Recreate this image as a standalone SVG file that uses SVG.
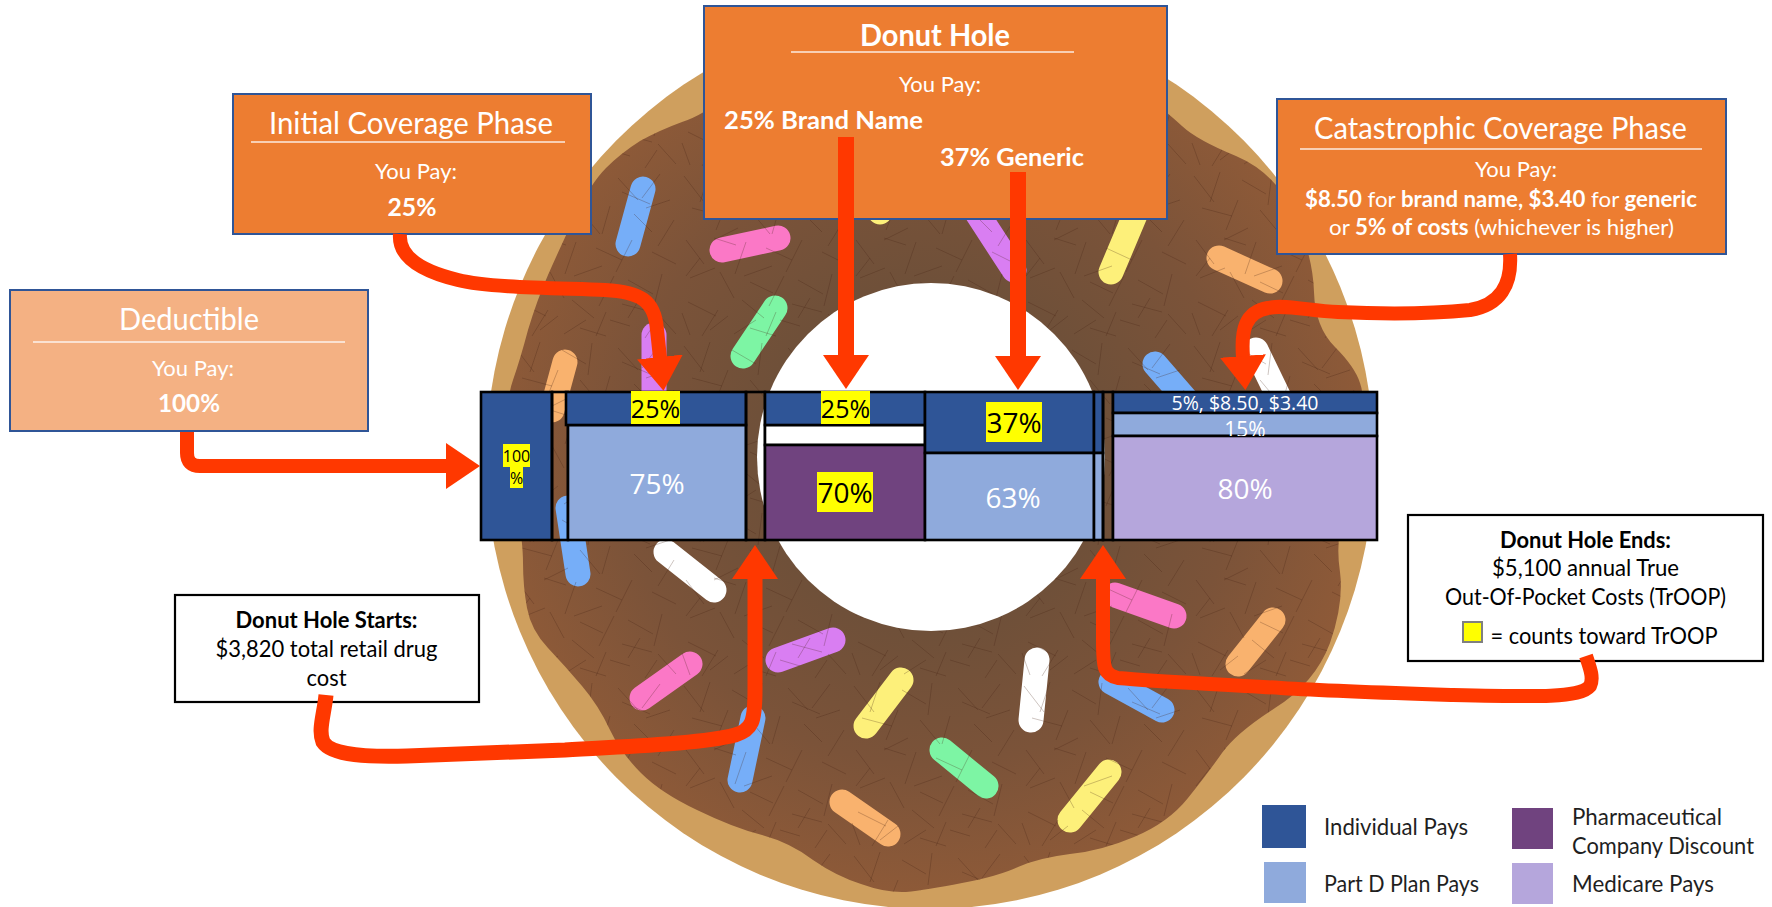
<svg xmlns="http://www.w3.org/2000/svg" width="1772" height="907" viewBox="0 0 1772 907">
<style>
text{font-family:"Lato","Open Sans","Liberation Sans",sans-serif;fill:#fff}
.b{font-weight:700}
.t{font-size:30px;text-anchor:middle}
.p{font-size:22px;text-anchor:middle}
.v{font-size:25px;font-weight:700;text-anchor:middle}
.k{fill:#000;font-size:23px;text-anchor:middle}
.l{fill:#1f1f1f;font-size:23px}
.n{font-family:"Open Sans","Liberation Sans",sans-serif;text-anchor:middle}
.n27{font-size:28px}.n24{font-size:25px}
.dk{fill:#000}
.call{fill:#ed7d31;stroke:#2f5597;stroke-width:2}
.note{fill:#fff;stroke:#000;stroke-width:2.2}
.rule{stroke:#fff;stroke-width:1.5;opacity:.85}
.seg{stroke:#000;stroke-width:2.6}
.ind{fill:#2f5597}.plan{fill:#8faadc}.pharm{fill:#70437f}.med{fill:#b5a6dc}
.hl{fill:#ff0}
.spr{fill:none;stroke-width:25;stroke-linecap:round}
.arr{fill:none;stroke:#ff3800;stroke-width:14;marker-end:url(#head)}
</style>
<defs>
<marker id="head" markerUnits="userSpaceOnUse" markerWidth="35" markerHeight="46" refX="1" refY="23" orient="auto" viewBox="0 0 35 46"><path d="M0 0L34 23L0 46z" fill="#ff3800"/></marker>
<radialGradient id="ice" gradientUnits="userSpaceOnUse" cx="930" cy="457" r="440"><stop offset=".4" stop-color="#6f5039"/><stop offset=".7" stop-color="#7b5339"/><stop offset="1" stop-color="#8e5a38"/></radialGradient>
<pattern id="tex" patternUnits="userSpaceOnUse" width="170" height="170">
<g stroke="#42200f" stroke-width=".7" opacity=".38" fill="none">
<path d="M4 6l20 26M30 2l-10 30M52 10l24 14M82 3l-4 32M108 8l20 22M150 4l-18 24M160 30l-24 8M12 38l30 8M48 30l-12 30M70 40l20 24M100 36l-8 28M124 44l18 18M164 50l-16 26M6 70l18 24M34 68l22 7M66 72l-11 32M86 78l26 12M122 70l-16 32M142 82l24 12M10 108l25-10M40 102l14 26M70 112l23 11M104 106l-15 30M118 110l25 14M152 104l-8 32M8 132l28 14M38 140l-16 26M62 130l22 18M96 142l-10 24M112 134l30 8M148 144l18 20M30 160l18-14M70 158l26 8M120 156l-20-6M10 165l-8-22M135 168l12-18M58 58l-24 12M112 22l28 12M20 88l-14 18M92 96l-28 10M130 128l-12 20M76 150l-22 14"/>
</g>
</pattern>
<clipPath id="bar15"><rect x="1113" y="414" width="264" height="22"/></clipPath>
</defs>

<g id="donut">
<ellipse cx="930" cy="459" rx="444" ry="450" fill="#cf9f5e"/>
<path id="icing" fill="url(#ice)" d="M682 122Q660 130 640 141Q621 153 606 168Q591 183 575 216Q559 250 548 275Q537 300 528 330Q520 360 513 380Q506 400 508 430Q510 460 516 500Q523 541 523 563Q523 586 527 608Q531 630 548 648Q565 666 582 686Q599 706 610 730Q621 753 641 773Q661 793 697 810Q734 828 762 835Q791 843 813 860Q836 876 861 884Q886 893 906 892Q926 890 962 883Q999 876 1018 867Q1038 858 1070 854Q1101 851 1134 837Q1168 823 1188 798Q1208 773 1222 753Q1236 733 1275 708Q1315 683 1330 643Q1344 603 1340 572Q1335 541 1345 505Q1355 470 1360 435Q1366 400 1360 383Q1355 367 1335 347Q1315 327 1314 292Q1313 257 1295 215Q1276 173 1236 156Q1197 140 1182 126Q1168 113 1134 86Q1100 60 1015 50Q930 40 845 55Q760 70 732 92Q704 115 682 122z"/>
<g class="sprinkles">
<g stroke="#76aef8"><path class="spr" d="M643 189L628 244"/><path class="spr" d="M568 508L578 574"/><path class="spr" d="M753 718L740 780"/><path class="spr" d="M1111 682L1162 710"/><path class="spr" d="M1155 364L1195 410"/></g>
<g stroke="#fb78c6"><path class="spr" d="M722 250L778 238"/><path class="spr" d="M642 698L690 664"/><path class="spr" d="M1115 595L1174 616"/></g>
<g stroke="#7df5a4"><path class="spr" d="M775 308L743 356"/><path class="spr" d="M942 750L986 786"/></g>
<g stroke="#d97ef2"><path class="spr" d="M654 335L654 400"/><path class="spr" d="M778 660L833 640"/><path class="spr" d="M975 210L1014 270"/></g>
<g stroke="#f9b26e"><path class="spr" d="M565 362L552 410"/><path class="spr" d="M842 802L888 834"/><path class="spr" d="M1273 620L1238 664"/><path class="spr" d="M1219 258L1270 281"/></g>
<g stroke="#fdf07a"><path class="spr" d="M901 680L866 726"/><path class="spr" d="M1109 772L1070 820"/><path class="spr" d="M1135 215L1111 272"/><path class="spr" d="M885 200L880 212"/></g>
<g stroke="#fff"><path class="spr" d="M666 552L714 590"/><path class="spr" d="M1037 660L1031 720"/><path class="spr" d="M1256 350L1285 410"/></g>
</g>
<path fill="url(#tex)" d="M682 122Q660 130 640 141Q621 153 606 168Q591 183 575 216Q559 250 548 275Q537 300 528 330Q520 360 513 380Q506 400 508 430Q510 460 516 500Q523 541 523 563Q523 586 527 608Q531 630 548 648Q565 666 582 686Q599 706 610 730Q621 753 641 773Q661 793 697 810Q734 828 762 835Q791 843 813 860Q836 876 861 884Q886 893 906 892Q926 890 962 883Q999 876 1018 867Q1038 858 1070 854Q1101 851 1134 837Q1168 823 1188 798Q1208 773 1222 753Q1236 733 1275 708Q1315 683 1330 643Q1344 603 1340 572Q1335 541 1345 505Q1355 470 1360 435Q1366 400 1360 383Q1355 367 1335 347Q1315 327 1314 292Q1313 257 1295 215Q1276 173 1236 156Q1197 140 1182 126Q1168 113 1134 86Q1100 60 1015 50Q930 40 845 55Q760 70 732 92Q704 115 682 122z"/>
<ellipse cx="931" cy="457" rx="174" ry="174" fill="#fff"/>
</g>

<g id="bar">
<rect id="seg-deductible" class="seg ind" x="481" y="392" width="71" height="148"/>
<rect class="seg" fill="none" x="552" y="392" width="16" height="148"/>
<rect id="seg-initial-plan" class="seg plan" x="568" y="425" width="178" height="115"/>
<rect id="seg-initial-ind" class="seg ind" x="566" y="392" width="180" height="33"/>
<rect class="seg" fill="none" x="746" y="392" width="19" height="148"/>
<rect id="seg-hole-white" class="seg" fill="#fff" x="765" y="425" width="160" height="20"/>
<rect id="seg-hole-pharm" class="seg pharm" x="765" y="445" width="160" height="95"/>
<rect id="seg-hole-ind" class="seg ind" x="765" y="392" width="160" height="33"/>
<rect id="seg-gen-ind" class="seg ind" x="925" y="392" width="169" height="61"/>
<rect id="seg-gen-plan" class="seg plan" x="925" y="453" width="169" height="87"/>
<rect class="seg ind" x="1094" y="392" width="9" height="61"/>
<rect class="seg plan" x="1094" y="453" width="9" height="87"/>
<rect class="seg" fill="none" x="1103" y="392" width="10" height="148"/>
<rect id="seg-cat-ind" class="seg ind" x="1113" y="392" width="264" height="21"/>
<rect id="seg-cat-plan" class="seg plan" x="1113" y="413" width="264" height="23"/>
<rect id="seg-cat-med" class="seg med" x="1113" y="436" width="264" height="104"/>
<rect class="hl" x="503" y="444" width="27" height="23"/><rect class="hl" x="510" y="467" width="13" height="21"/>
<text class="n dk" font-size="16" x="516.500" y="462">100</text>
<text class="n dk" font-size="16" x="516.500" y="484">%</text>
<rect class="hl" x="631" y="391" width="49" height="33"/>
<text class="n n24 dk" x="655.500" y="418">25%</text>
<text class="n n27" x="657" y="494">75%</text>
<rect class="hl" x="821" y="391" width="49" height="33"/>
<text class="n n24 dk" x="845.500" y="418">25%</text>
<rect class="hl" x="817" y="472" width="56" height="40"/>
<text class="n n27 dk" x="845" y="503">70%</text>
<rect class="hl" x="986" y="402" width="56" height="40"/>
<text class="n n27 dk" x="1014" y="433">37%</text>
<text class="n n27" x="1013" y="508">63%</text>
<text class="n" font-size="19.500" x="1245" y="410">5%, $8.50, $3.40</text>
<text class="n" font-size="21" x="1245" y="437" clip-path="url(#bar15)">15%</text>
<text class="n n27" x="1245" y="499">80%</text>
</g>

<g id="deductible">
<rect class="call" style="fill:#f4b183" x="10" y="290" width="358" height="141"/>
<line class="rule" x1="33" y1="342" x2="345" y2="342"/>
<text class="t" x="189" y="330" textLength="140" lengthAdjust="spacingAndGlyphs">Deductible</text>
<text class="p" x="193" y="376" textLength="82" lengthAdjust="spacingAndGlyphs">You Pay:</text>
<text class="v" x="189" y="412" textLength="62" lengthAdjust="spacingAndGlyphs">100%</text>
</g>
<g id="initial-coverage">
<rect class="call" x="233" y="94" width="358" height="140"/>
<line class="rule" x1="251" y1="142" x2="565" y2="142"/>
<text class="t" x="411" y="134" textLength="284" lengthAdjust="spacingAndGlyphs">Initial Coverage Phase</text>
<text class="p" x="416" y="179" textLength="82" lengthAdjust="spacingAndGlyphs">You Pay:</text>
<text class="v" x="412" y="216" textLength="49" lengthAdjust="spacingAndGlyphs">25%</text>
</g>
<g id="donut-hole">
<rect class="call" x="704" y="6" width="463" height="213"/>
<line class="rule" x1="791" y1="52" x2="1074" y2="52"/>
<text class="t b" x="935" y="46" textLength="150" lengthAdjust="spacingAndGlyphs">Donut Hole</text>
<text class="p" x="940" y="92" textLength="82" lengthAdjust="spacingAndGlyphs">You Pay:</text>
<text class="v" x="823.500" y="129" textLength="199" lengthAdjust="spacingAndGlyphs">25% Brand Name</text>
<text class="v" x="1012" y="166" textLength="144" lengthAdjust="spacingAndGlyphs">37% Generic</text>
</g>
<g id="catastrophic">
<rect class="call" x="1277" y="99" width="449" height="155"/>
<line class="rule" x1="1300" y1="149" x2="1702" y2="149"/>
<text class="t" x="1500.500" y="139" textLength="373" lengthAdjust="spacingAndGlyphs">Catastrophic Coverage Phase</text>
<text class="p" x="1516" y="177" textLength="82" lengthAdjust="spacingAndGlyphs">You Pay:</text>
<text class="p" x="1501" y="207" textLength="392" lengthAdjust="spacingAndGlyphs"><tspan class="b">$8.50</tspan> for <tspan class="b">brand name, $3.40</tspan> for <tspan class="b">generic</tspan></text>
<text class="p" x="1501.500" y="235" textLength="345" lengthAdjust="spacingAndGlyphs">or <tspan class="b">5% of costs</tspan> (whichever is higher)</text>
</g>
<g id="donut-hole-starts">
<rect class="note" x="175" y="595" width="304" height="107"/>
<text class="k b" x="326.500" y="628" textLength="182" lengthAdjust="spacingAndGlyphs">Donut Hole Starts:</text>
<text class="k" x="326.500" y="657" textLength="222" lengthAdjust="spacingAndGlyphs">$3,820 total retail drug</text>
<text class="k" x="326.500" y="686" textLength="40" lengthAdjust="spacingAndGlyphs">cost</text>
</g>
<g id="donut-hole-ends">
<rect class="note" x="1408" y="515" width="355" height="146"/>
<text class="k b" x="1585.500" y="548" textLength="171" lengthAdjust="spacingAndGlyphs">Donut Hole Ends:</text>
<text class="k" x="1585.500" y="576" textLength="187" lengthAdjust="spacingAndGlyphs">$5,100 annual True</text>
<text class="k" x="1585.500" y="605" textLength="281" lengthAdjust="spacingAndGlyphs">Out-Of-Pocket Costs (TrOOP)</text>
<rect x="1463" y="622" width="19" height="20" fill="#ff0" stroke="#808080" stroke-width="2"/>
<text class="k" x="1604" y="644" textLength="227" lengthAdjust="spacingAndGlyphs">= counts toward TrOOP</text>
</g>
<g id="legend">
<g id="legend-individual"><rect class="ind" x="1262" y="805" width="44" height="43"/><text class="l" x="1324" y="835" textLength="144" lengthAdjust="spacingAndGlyphs">Individual Pays</text></g>
<g id="legend-plan"><rect class="plan" x="1264" y="862" width="42" height="41"/><text class="l" x="1324" y="892" textLength="155" lengthAdjust="spacingAndGlyphs">Part D Plan Pays</text></g>
<g id="legend-pharma"><rect class="pharm" x="1512" y="808" width="41" height="41"/><text class="l" x="1572" y="825" textLength="150" lengthAdjust="spacingAndGlyphs">Pharmaceutical</text><text class="l" x="1572" y="854" textLength="182" lengthAdjust="spacingAndGlyphs">Company Discount</text></g>
<g id="legend-medicare"><rect class="med" x="1512" y="863" width="41" height="41"/><text class="l" x="1572" y="892" textLength="142" lengthAdjust="spacingAndGlyphs">Medicare Pays</text></g>
</g>

<g id="connectors">
<path class="arr" d="M187 432V453Q187 466 200 466H447"/>
<path class="arr" d="M400 234C398 258 425 272 458 280C490 288 560 288 605 290C640 292 655 300 657 330L660 358"/>
<path class="arr" style="stroke-width:16" d="M846 137V356"/>
<path class="arr" style="stroke-width:16" d="M1018 172V357"/>
<path class="arr" d="M1510 254C1512 285 1500 305 1470 310C1430 314 1380 314 1338 312C1310 311 1285 304 1268 308C1245 312 1241 330 1243 357"/>
<path class="arr" style="stroke-width:15" d="M326 695C324 715 318 730 323 742C332 756 370 757 407 756C470 754 520 752 565 750C630 746 700 744 735 735C752 730 755 722 755 690V578"/>
<path class="arr" d="M1586 656C1590 668 1594 678 1590 686C1580 698 1540 697 1451 695C1390 693 1330 691 1281 688C1220 684 1160 682 1118 678C1104 675 1103 668 1103 640V578"/>
</g>
</svg>
